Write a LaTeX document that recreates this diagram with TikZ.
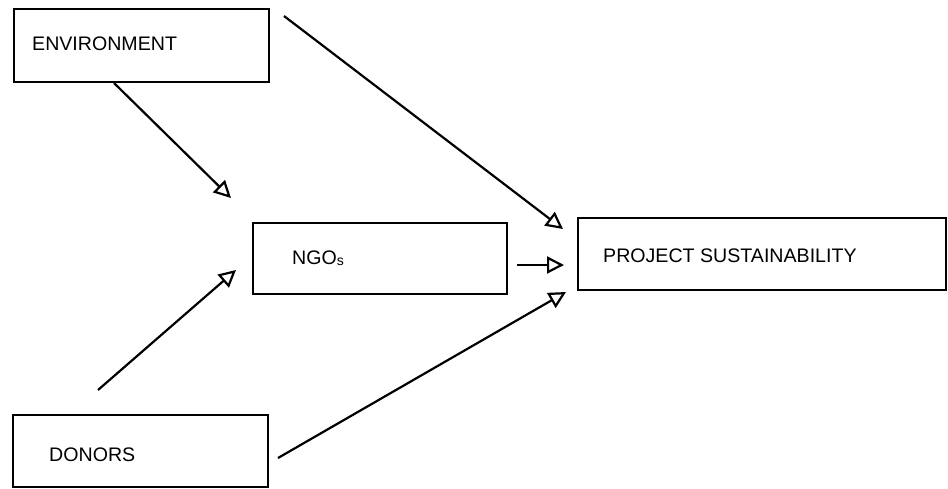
\documentclass[tikz,border=0pt]{standalone}
\usepackage{fontspec}
\setmainfont{Liberation Sans}
\usetikzlibrary{arrows.meta}
\begin{document}
\begin{tikzpicture}[x=1pt,y=-1pt,
  box/.style={draw, line width=1.6pt, inner sep=0pt},
  lbl/.style={anchor=west, font=\fontsize{19.6}{22}\selectfont, inner sep=0pt},
  link/.style={line width=2.2pt, -{Triangle[open, length=17pt, width=17pt, line width=2.2pt]}}]
\useasboundingbox (0,0) rectangle (948,488);
% boxes
\draw[box] (14,9) rectangle (269,82);
\node[lbl] (env) at (32,44) {ENVIRONMENT};
\draw[box] (253,223) rectangle (507,294);
\node[lbl] (ngo) at (292,258) {NGO\raisebox{-1.5pt}{\fontsize{14}{14}\selectfont s}};
\draw[box] (578,218) rectangle (946,290);
\node[lbl] (ps) at (603,256) {PROJECT SUSTAINABILITY};
\draw[box] (13,415) rectangle (268,487);
\node[lbl] (don) at (49,455) {DONORS};
% connector ends
\coordinate (a1) at (114,83);  \coordinate (b1) at (231,198);
\coordinate (a2) at (284,16);  \coordinate (b2) at (563,229);
\coordinate (a3) at (517,265); \coordinate (b3) at (564,265);
\coordinate (a4) at (98,390);  \coordinate (b4) at (236,270);
\coordinate (a5) at (278,458); \coordinate (b5) at (566,292);
\draw[link] (a1) -- (b1);
\draw[link] (a2) -- (b2);
\draw[link] (a3) -- (b3);
\draw[link] (a4) -- (b4);
\draw[link] (a5) -- (b5);
\end{tikzpicture}
\end{document}
